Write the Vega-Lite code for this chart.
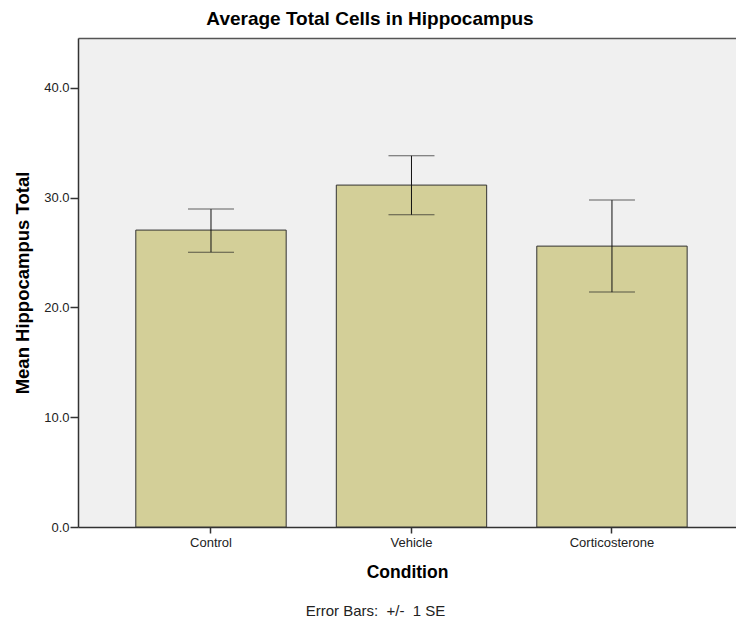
{
  "$schema": "https://vega.github.io/schema/vega-lite/v6.json",
  "autosize": "none",
  "width": 658,
  "height": 489,
  "padding": {"left": 78, "top": 38, "right": 0, "bottom": 94},
  "background": "white",
  "title": {
    "text": "Average Total Cells in Hippocampus",
    "font": "Liberation Sans",
    "fontSize": 19,
    "fontWeight": "bold",
    "color": "#000000",
    "anchor": "middle",
    "dx": -37,
    "offset": 9
  },
  "data": {
    "values": [
      {"condition": "Control", "mean": 27.05, "lo": 25.04, "hi": 28.96},
      {"condition": "Vehicle", "mean": 31.15, "lo": 28.44, "hi": 33.82},
      {"condition": "Corticosterone", "mean": 25.59, "lo": 21.4, "hi": 29.78}
    ]
  },
  "layer": [
    {
      "mark": {"type": "bar", "fill": "#d3cf98", "stroke": "#333333", "strokeWidth": 1},
      "encoding": {
        "x": {
          "field": "condition", "type": "nominal", "sort": null,
          "scale": {"paddingInner": 0.25, "paddingOuter": 0.266, "align": 0.542},
          "axis": {"title": "Condition", "orient": "bottom", "labelAngle": 0, "ticks": true, "domain": true}
        },
        "y": {
          "field": "mean", "type": "quantitative",
          "scale": {"domain": [0, 44.55], "nice": false, "zero": true},
          "axis": {"title": "Mean Hippocampus Total", "values": [0, 10, 20, 30, 40], "format": ".1f"}
        }
      }
    },
    {
      "mark": {"type": "rule", "color": "#111111", "strokeWidth": 1},
      "encoding": {
        "x": {
          "field": "condition", "type": "nominal", "sort": null,
          "axis": {"title": "Error Bars:\u00a0 +/-\u00a0 1 SE", "orient": "bottom", "labels": false, "ticks": false, "domain": false,
                   "titleFontWeight": "normal", "titleFontSize": 15, "titleColor": "#222222",
                   "titleX": 297, "titleY": 83, "titleBaseline": "middle", "titleAlign": "center"}
        },
        "y": {"field": "lo", "type": "quantitative", "title": "Mean Hippocampus Total"},
        "y2": {"field": "hi"}
      }
    },
    {
      "mark": {"type": "tick", "color": "#222222", "size": 46, "thickness": 1},
      "encoding": {
        "x": {
          "field": "condition", "type": "nominal", "sort": null,
          "axis": {"title": null, "orient": "top", "labels": false, "ticks": false, "domain": true, "domainColor": "#555555", "domainWidth": 1.5}
        },
        "y": {"field": "lo", "type": "quantitative", "title": "Mean Hippocampus Total"}
      }
    },
    {
      "mark": {"type": "tick", "color": "#222222", "size": 46, "thickness": 1},
      "encoding": {
        "x": {"field": "condition", "type": "nominal", "sort": null, "axis": null},
        "y": {"field": "hi", "type": "quantitative", "title": "Mean Hippocampus Total"}
      }
    }
  ],
  "resolve": {"scale": {"x": "shared", "y": "shared"}, "axis": {"x": "independent", "y": "shared"}},
  "config": {
    "view": {"stroke": null, "fill": "#f0f0f0"},
    "font": "Liberation Sans",
    "axis": {
      "grid": false,
      "labelFont": "Liberation Sans",
      "labelFontSize": 13,
      "labelColor": "#222222",
      "titleFont": "Liberation Sans",
      "titleFontSize": 17.5,
      "titleFontWeight": "bold",
      "titleColor": "#000000",
      "domainColor": "#333333",
      "domainWidth": 1.5,
      "tickColor": "#333333",
      "tickWidth": 1.5
    },
    "axisX": {"tickSize": 6, "labelPadding": 3, "titlePadding": 14},
    "axisY": {"tickSize": 8, "labelPadding": 1, "titlePadding": 11, "titleFontSize": 18.5}
  }
}
